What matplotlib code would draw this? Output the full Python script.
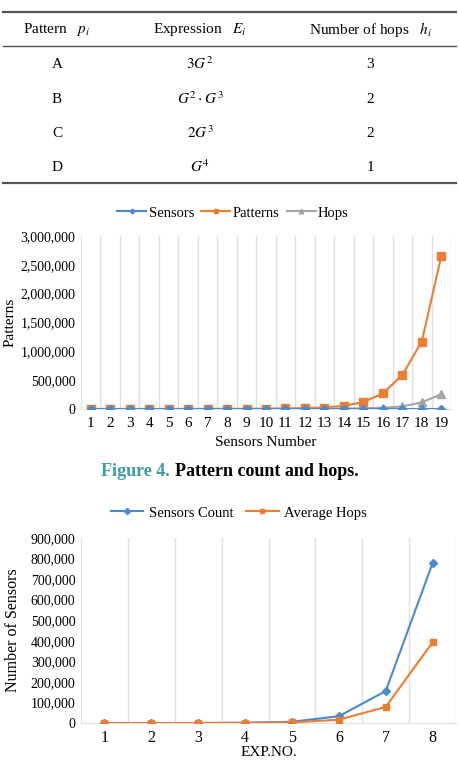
import matplotlib
matplotlib.use("Agg")
import matplotlib.pyplot as plt
from matplotlib.lines import Line2D
from matplotlib.ticker import FuncFormatter

# table data
pattern_ids = ["A", "B", "C", "D"]
expressions = [r"$3G^{2}$", r"$G^{2}\cdot G^{3}$", r"$2G^{3}$", r"$G^{4}$"]
hop_counts = ["3", "2", "2", "1"]
headers = [r"Pattern   $p_i$", r"Expression   $E_i$", r"Number of hops   $h_i$"]

# figure 4 data
sensors_num = list(range(1, 20))
sensors = list(range(1, 20))
patterns = [3, 10, 30, 80, 180, 400, 800, 1500, 2800, 5000, 9000, 15000,
            26000, 55000, 120000, 270000, 590000, 1170000, 2650000]
hops = [1, 2, 5, 10, 25, 50, 100, 200, 400, 800, 1500, 2500,
        4000, 7000, 12000, 22000, 45000, 115000, 255000]

# second chart data
exp_no = [1, 2, 3, 4, 5, 6, 7, 8]
sensors_count = [0, 20, 150, 1200, 6000, 33000, 155000, 777000]
average_hops = [0, 10, 80, 600, 3000, 16000, 78000, 392000]

BLUE = "#4a8ad0"
ORANGE = "#ed7d31"
GREY = "#a5a5a5"
GRID = "#e0e0e0"

plt.rcParams["font.family"] = ["Liberation Serif", "DejaVu Serif"]
plt.rcParams["mathtext.fontset"] = "stix"

W, H = 459, 765
fig = plt.figure(figsize=(W / 100, H / 100), dpi=100)


def box(left, top, right, bottom):
    return [left / W, 1 - bottom / H, (right - left) / W, (bottom - top) / H]


# ---- table ----
tab = fig.add_axes([0, 0, 1, 1])
tab.set_xlim(0, W)
tab.set_ylim(H, 0)
tab.axis("off")
for y, lw in [(12, 1.6), (46, 1.0), (183, 1.6)]:
    tab.add_line(Line2D([3, 456], [y, y], color="#555555", lw=lw))
col_x = [57, 200, 370]
for x, h in zip(col_x, headers):
    tab.text(x, 29, h, ha="center", va="center", fontsize=11)
row_y = [64, 99, 133, 167]
for y, p, e, n in zip(row_y, pattern_ids, expressions, hop_counts):
    tab.text(col_x[0], y, p, ha="center", va="center", fontsize=11)
    tab.text(col_x[1], y, e, ha="center", va="center", fontsize=11)
    tab.text(col_x[2], y, n, ha="center", va="center", fontsize=11)

fmt = FuncFormatter(lambda v, p: f"{int(v):,}")


def style(ax, n):
    ax.set_xlim(0.5, n + 0.5)
    ax.set_xticks(range(1, n + 1))
    for b in range(1, n + 1):
        ax.axvline(b + 0.5, color=GRID, lw=1, zorder=0)
    for s in ["top", "right"]:
        ax.spines[s].set_visible(False)
    ax.spines["left"].set_color(GRID)
    ax.spines["bottom"].set_color(GRID)
    ax.tick_params(length=0, labelsize=11, pad=4)
    ax.yaxis.set_major_formatter(fmt)


# ---- chart 1 ----
ax1 = fig.add_axes(box(81, 236, 451, 409))
ax1.plot(sensors_num, sensors, color=BLUE, marker="D", ms=4, lw=1.5, label="Sensors", zorder=3)
ax1.plot(sensors_num, patterns, color=ORANGE, marker="s", ms=5.5, lw=1.5, label="Patterns", zorder=2)
ax1.plot(sensors_num, hops, color=GREY, marker="^", ms=5.5, lw=1.5, label="Hops", zorder=2.5)
style(ax1, 19)
ax1.set_ylim(0, 3000000)
ax1.set_yticks(range(0, 3000001, 500000))
ax1.tick_params(axis="y", labelsize=10)
ax1.tick_params(axis="x", pad=6)
ax1.set_xlabel("Sensors Number", fontsize=11)
ax1.set_ylabel("Patterns", fontsize=11)
ax1.xaxis.set_label_coords(0.5, -0.155)
ax1.yaxis.set_label_coords(-0.173, 0.5)
fig.legend(*ax1.get_legend_handles_labels(), loc="center", ncol=3, frameon=False,
           bbox_to_anchor=(233 / W, 1 - 213 / H), fontsize=10.5, handlelength=2.0,
           handletextpad=0.15, columnspacing=0.5, markerscale=0.6)

# caption
fig.text(170 / W, 1 - 471 / H, "Figure 4.", ha="right", va="center",
         fontsize=13, fontweight="bold", color="#3c9ba3")
fig.text(175 / W, 1 - 471 / H, "Pattern count and hops.", ha="left", va="center",
         fontsize=13, fontweight="bold", color="black")

# ---- chart 2 ----
ax2 = fig.add_axes(box(81, 538, 456, 723))
ax2.plot(exp_no, sensors_count, color=BLUE, marker="D", ms=4.5, lw=1.5, label="Sensors Count", zorder=3)
ax2.plot(exp_no, average_hops, color=ORANGE, marker="s", ms=5, lw=1.5, label="Average Hops", zorder=3)
style(ax2, 8)
ax2.set_ylim(0, 900000)
ax2.set_yticks(range(0, 900001, 100000))
ax2.tick_params(axis="y", labelsize=10)
ax2.tick_params(axis="x", labelsize=11.5, pad=5)
ax2.set_xlabel("EXP.NO.", fontsize=11)
ax2.set_ylabel("Number of Sensors", fontsize=11.5)
ax2.xaxis.set_label_coords(0.5, -0.125)
ax2.yaxis.set_label_coords(-0.16, 0.5)
fig.legend(*ax2.get_legend_handles_labels(), loc="center", ncol=2, frameon=False,
           bbox_to_anchor=(239 / W, 1 - 513 / H), fontsize=10.5, handlelength=2.2,
           handletextpad=0.4, columnspacing=0.9, markerscale=0.7)

fig.savefig("out.png", dpi=100)
